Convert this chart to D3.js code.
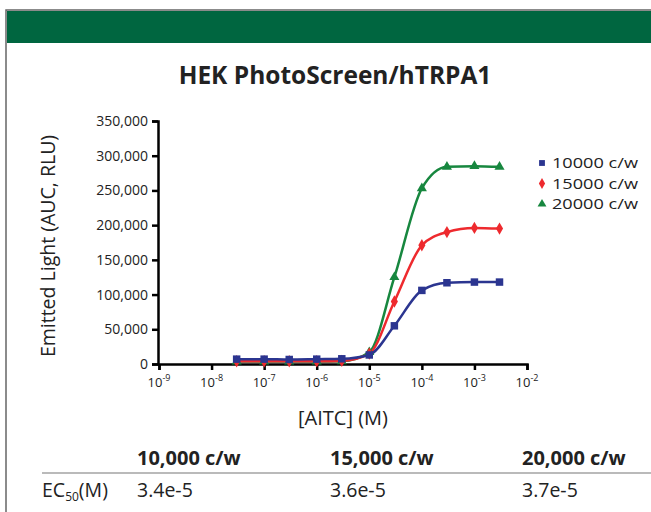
<!DOCTYPE html>
<html>
<head>
<meta charset="utf-8">
<script src="https://cdn.jsdelivr.net/npm/d3@7"></script>
<style>
  body { margin: 0; background: #fff; }
  text { font-family: "Open Sans", sans-serif; }
</style>
</head>
<body>
<script>
// concentrations of AITC (M)
var conc = [3e-8, 1e-7, 3e-7, 1e-6, 3e-6, 1e-5, 3e-5, 1e-4, 3e-4, 1e-3, 3e-3];

var cells10000 = [7000, 7000, 6500, 7000, 7500, 13000, 55000, 106000, 117000, 118000, 118000];
var cells15000 = [4000, 4000, 4000, 4000, 4500, 15000, 90000, 171000, 190000, 196000, 195000];
var cells20000 = [3500, 3500, 3500, 3500, 4000, 17000, 125000, 253000, 284000, 285000, 284000];

var seriesNames = ["10000 c/w", "15000 c/w", "20000 c/w"];
var seriesColors = ["#2b3590", "#ee2a2e", "#17873f"];
var seriesShapes = [d3.symbolSquare, d3.symbolDiamond, d3.symbolTriangle];

var yTicks = [0, 50000, 100000, 150000, 200000, 250000, 300000, 350000];
var xTicks = [1e-9, 1e-8, 1e-7, 1e-6, 1e-5, 1e-4, 1e-3, 1e-2];

var tableHeads = ["10,000 c/w", "15,000 c/w", "20,000 c/w"];
var ec50 = ["3.4e-5", "3.6e-5", "3.7e-5"];

var allSeries = [cells10000, cells15000, cells20000];

var svg = d3.select("body").append("svg")
    .attr("width", 651)
    .attr("height", 512);

// frame and green header band
svg.append("rect").attr("x", 6).attr("y", 10).attr("width", 650).attr("height", 510)
    .attr("fill", "none").attr("stroke", "#666").attr("stroke-width", 1.5);
svg.append("rect").attr("x", 7).attr("y", 11).attr("width", 644).attr("height", 32)
    .attr("fill", "#006640");

svg.append("text")
    .attr("x", 335).attr("y", 84)
    .attr("text-anchor", "middle")
    .attr("font-size", "24.5px")
    .attr("font-weight", "bold")
    .attr("fill", "#222")
    .text("HEK PhotoScreen/hTRPA1");

var x = d3.scaleLog().domain([1e-9, 1e-2]).range([159, 527]);
var y = d3.scaleLinear().domain([0, 350000]).range([364, 121]);

var yAxis = svg.append("g")
    .attr("transform", "translate(158,0)")
    .call(d3.axisLeft(y).tickValues(yTicks).tickFormat(d3.format(",")).tickSize(6).tickPadding(4));
yAxis.selectAll("text").attr("font-size", "14px").attr("fill", "#222").attr("font-family", "Open Sans, sans-serif");

var xAxis = svg.append("g")
    .attr("transform", "translate(0,364)")
    .call(d3.axisBottom(x).tickValues(xTicks).tickFormat("").tickSize(6));

[yAxis, xAxis].forEach(function(a){
    a.select(".domain").attr("stroke", "#000").attr("stroke-width", 2.5);
    a.selectAll(".tick line").attr("stroke", "#000").attr("stroke-width", 2.5);
});

// x tick labels 10^n
xTicks.forEach(function(t){
    var lbl = svg.append("text")
        .attr("x", x(t)).attr("y", 387)
        .attr("text-anchor", "middle")
        .attr("font-size", "13px")
        .attr("fill", "#222");
    lbl.append("tspan").text("10");
    lbl.append("tspan").attr("dy", -6).attr("font-size", "9px").text(Math.round(Math.log10(t)));
});

svg.append("text")
    .attr("transform", "translate(55,246)rotate(-90)")
    .attr("text-anchor", "middle")
    .attr("font-size", "19.5px")
    .attr("fill", "#222")
    .text("Emitted Light (AUC, RLU)");

svg.append("text")
    .attr("x", 343).attr("y", 425)
    .attr("text-anchor", "middle")
    .attr("font-size", "20px")
    .attr("fill", "#222")
    .text("[AITC] (M)");

var line = d3.line()
    .x(function(d, i){ return x(conc[i]); })
    .y(function(d){ return y(d); })
    .curve(d3.curveMonotoneX);

[2, 1, 0].forEach(function(s){
    svg.append("path")
        .datum(allSeries[s])
        .attr("d", line)
        .attr("fill", "none")
        .attr("stroke", seriesColors[s])
        .attr("stroke-width", 2.5);
});

[2, 1, 0].forEach(function(s){
    svg.append("g").selectAll("path")
        .data(allSeries[s])
        .enter()
        .append("path")
        .attr("transform", function(d, i){ return "translate(" + x(conc[i]) + "," + y(d) + ")"; })
        .attr("d", d3.symbol().type(seriesShapes[s]).size(s == 0 ? 56 : 44))
        .attr("fill", seriesColors[s]);
});

// legend
seriesNames.forEach(function(n, i){
    var ly = 163 + i * 20.5;
    svg.append("path")
        .attr("transform", "translate(542," + ly + ")")
        .attr("d", d3.symbol().type(seriesShapes[i]).size(34))
        .attr("fill", seriesColors[i]);
    svg.append("text")
        .attr("x", 552).attr("y", ly + 5)
        .attr("font-family", "Liberation Sans, Arial, sans-serif")
        .attr("font-size", "15px")
        .attr("textLength", 86)
        .attr("lengthAdjust", "spacingAndGlyphs")
        .attr("fill", "#222")
        .text(n);
});

// EC50 table
var colX = [137, 330, 522];
tableHeads.forEach(function(h, i){
    svg.append("text")
        .attr("x", colX[i]).attr("y", 465)
        .attr("font-size", "20px")
        .attr("font-weight", "bold")
        .attr("fill", "#222")
        .text(h);
});
svg.append("line")
    .attr("x1", 42).attr("x2", 651).attr("y1", 473).attr("y2", 473)
    .attr("stroke", "#777").attr("stroke-width", 1.2);

var rowLbl = svg.append("text")
    .attr("x", 42).attr("y", 497)
    .attr("font-size", "19.5px")
    .attr("fill", "#222");
rowLbl.append("tspan").text("EC");
rowLbl.append("tspan").attr("dy", 4).attr("font-size", "12px").text("50");
rowLbl.append("tspan").attr("dy", -4).text("(M)");

ec50.forEach(function(v, i){
    svg.append("text")
        .attr("x", colX[i]).attr("y", 497)
        .attr("font-size", "19.5px")
        .attr("fill", "#222")
        .text(v);
});
</script>
</body>
</html>
